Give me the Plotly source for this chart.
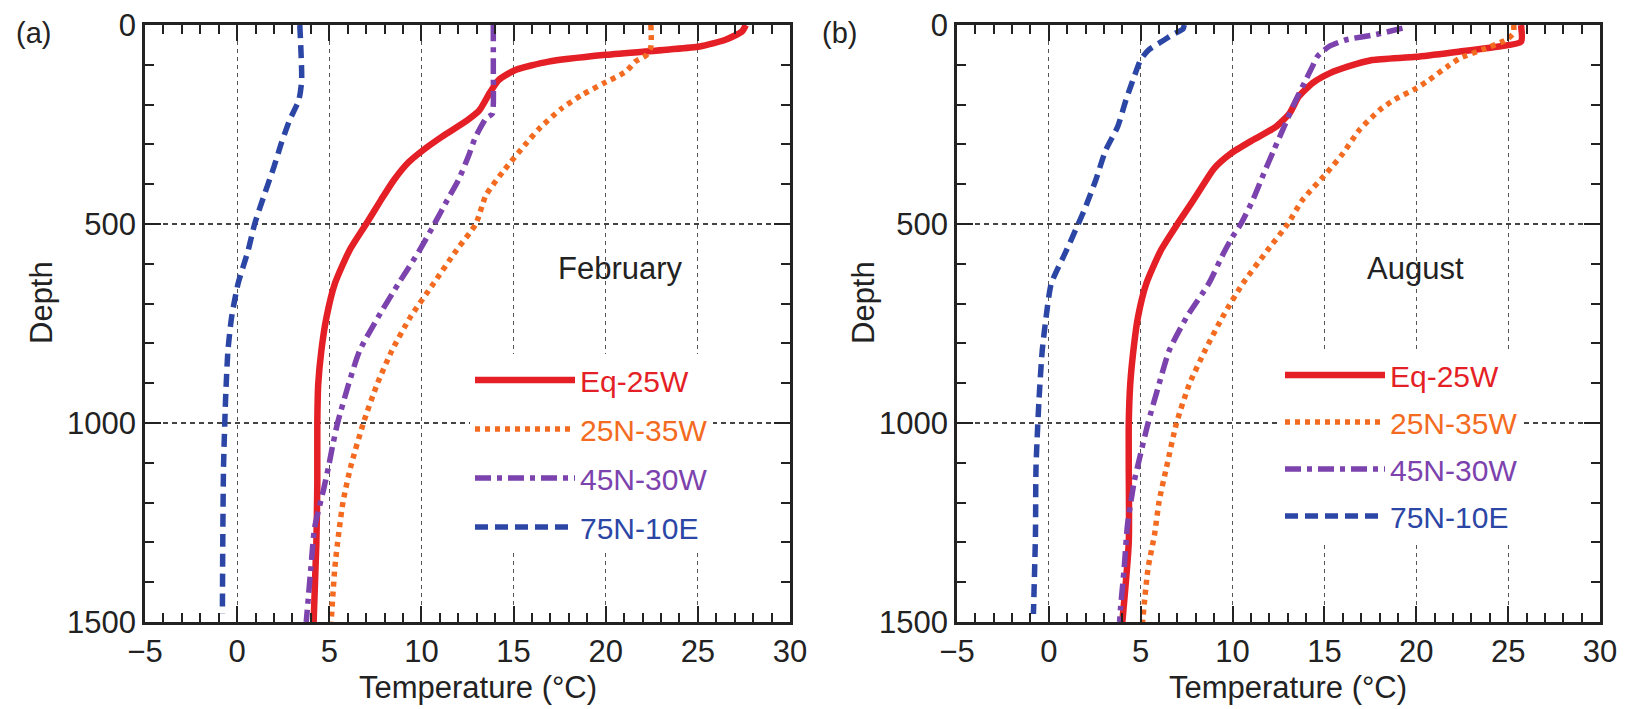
import plotly.graph_objects as go

W, H = 1625, 709

# ---------------- data: (a) February ----------------
feb_eq_depth = [0, 16, 37, 54, 62, 75, 92, 113, 138, 171, 214, 239, 281, 314, 345, 390, 440, 500, 566, 650, 734, 818, 902, 1000, 1150, 1300, 1500]
feb_eq_temp = [27.6, 27.4, 26.5, 25.1, 23.3, 20.0, 16.9, 15.1, 14.2, 13.7, 13.15, 12.5, 11.1, 10.1, 9.3, 8.5, 7.8, 7.0, 6.1, 5.3, 4.85, 4.57, 4.4, 4.35, 4.35, 4.3, 4.15]

feb_25n_depth = [0, 55, 76, 92, 117, 146, 176, 210, 260, 302, 370, 428, 500, 566, 650, 734, 818, 902, 1000, 1112, 1197, 1281, 1365, 1500]
feb_25n_temp = [22.45, 22.45, 22.2, 21.6, 21.1, 19.9, 18.7, 17.6, 16.4, 15.6, 14.4, 13.5, 12.95, 11.9, 10.65, 9.4, 8.4, 7.6, 6.85, 6.15, 5.75, 5.5, 5.3, 5.1]

feb_45n_depth = [0, 100, 200, 223, 235, 285, 330, 390, 440, 500, 566, 650, 734, 818, 902, 1000, 1053, 1112, 1171, 1264, 1365, 1500]
feb_45n_temp = [13.9, 13.9, 13.9, 13.85, 13.5, 12.9, 12.55, 12.0, 11.4, 10.7, 9.9, 8.75, 7.65, 6.65, 6.05, 5.45, 5.2, 4.95, 4.67, 4.2, 4.0, 3.75]

feb_75n_depth = [0, 140, 188, 239, 297, 356, 423, 500, 566, 650, 734, 818, 944, 1112, 1300, 1480]
feb_75n_temp = [3.4, 3.5, 3.35, 2.85, 2.4, 2.0, 1.5, 0.95, 0.6, 0.05, -0.3, -0.5, -0.63, -0.74, -0.78, -0.8]

# ---------------- data: (b) August ----------------
aug_eq_depth = [0, 42, 54, 67, 80, 88, 104, 121, 146, 180, 222, 256, 289, 323, 360, 405, 445, 500, 566, 650, 734, 818, 902, 1000, 1112, 1300, 1500]
aug_eq_temp = [25.7, 25.7, 24.5, 22.3, 20.0, 17.6, 16.3, 15.3, 14.35, 13.6, 13.1, 12.35, 11.1, 9.9, 9.0, 8.35, 7.8, 7.0, 6.1, 5.3, 4.85, 4.6, 4.43, 4.35, 4.35, 4.35, 4.0]

aug_25n_depth = [0, 20, 37, 62, 83, 104, 138, 159, 188, 214, 264, 323, 373, 440, 500, 566, 650, 734, 818, 902, 1000, 1112, 1197, 1281, 1365, 1500]
aug_25n_temp = [25.3, 25.3, 24.9, 23.6, 22.4, 21.7, 20.7, 20.0, 18.8, 18.0, 16.9, 16.0, 15.1, 13.8, 13.0, 11.9, 10.55, 9.45, 8.5, 7.65, 6.95, 6.4, 6.0, 5.75, 5.4, 5.1]

aug_45n_depth = [8, 24, 37, 54, 80, 104, 146, 188, 256, 314, 373, 440, 500, 532, 574, 650, 734, 818, 902, 1000, 1096, 1146, 1256, 1365, 1466, 1500]
aug_45n_temp = [19.25, 17.8, 16.2, 15.25, 14.6, 14.35, 13.9, 13.45, 12.8, 12.25, 11.7, 11.1, 10.45, 10.0, 9.5, 8.7, 7.5, 6.55, 6.0, 5.4, 4.9, 4.65, 4.28, 4.1, 3.9, 3.85]

aug_75n_depth = [0, 10, 25, 37, 62, 87, 129, 188, 255, 314, 390, 457, 500, 574, 650, 734, 818, 944, 1112, 1281, 1480]
aug_75n_temp = [7.37, 7.3, 6.7, 6.3, 5.45, 5.0, 4.65, 4.2, 3.75, 3.1, 2.55, 2.0, 1.6, 0.88, 0.13, -0.15, -0.36, -0.54, -0.7, -0.73, -0.84]

series_names = ["Eq-25W", "25N-35W", "45N-30W", "75N-10E"]
colors = ["#e41f26", "#f36b21", "#7c42ad", "#2c46a6"]
dashes = ["solid", "5px,5px", "16px,6px,5px,6px", "13px,7px"]
widths = [6.5, 5.5, 5.5, 5.5]

feb = [(feb_eq_temp, feb_eq_depth), (feb_25n_temp, feb_25n_depth), (feb_45n_temp, feb_45n_depth), (feb_75n_temp, feb_75n_depth)]
aug = [(aug_eq_temp, aug_eq_depth), (aug_25n_temp, aug_25n_depth), (aug_45n_temp, aug_45n_depth), (aug_75n_temp, aug_75n_depth)]

fig = go.Figure()
for panel, (data, xa, ya, leg) in enumerate([(feb, "x", "y", "legend"), (aug, "x2", "y2", "legend2")]):
    for i, (t, d) in enumerate(data):
        fig.add_trace(go.Scatter(
            x=t, y=d, mode="lines", xaxis=xa, yaxis=ya, legend=leg,
            name='<span style="color:%s">%s</span>' % (colors[i], series_names[i]),
            legendgroup="p%d_%d" % (panel, i),
            line=dict(color=colors[i], width=widths[i], dash=dashes[i], shape="spline", smoothing=0.6),
        ))

FONT = "Liberation Sans, Arial, Helvetica, sans-serif"
INK = "#222222"

def xax(dom):
    return dict(domain=dom, range=[-5, 30], tick0=-5, dtick=5, ticks="inside", ticklen=16, tickwidth=2,
                tickcolor=INK, minor=dict(dtick=1, ticks="inside", ticklen=9, tickwidth=1.5, tickcolor=INK, showgrid=False),
                showline=True, linewidth=2.5, linecolor=INK, mirror="allticks",
                showgrid=True, gridcolor="#555555", gridwidth=1.2, griddash="4px,4px", zeroline=False,
                tickfont=dict(size=31, color=INK, family=FONT), automargin=False, fixedrange=True)

def yax(dom, anchor):
    return dict(domain=dom, range=[1500, 0], tick0=0, dtick=500, ticks="inside", ticklen=16, tickwidth=2,
                tickcolor=INK, minor=dict(dtick=100, ticks="inside", ticklen=9, tickwidth=1.5, tickcolor=INK, showgrid=False),
                showline=True, linewidth=2.5, linecolor=INK, mirror="allticks", anchor=anchor,
                showgrid=True, gridcolor="#444444", gridwidth=2, griddash="5px,4px", zeroline=False,
                tickfont=dict(size=31, color=INK, family=FONT), automargin=False, fixedrange=True)

ydom = [1 - 622 / H, 1 - 25 / H]
fig.update_layout(
    width=W, height=H, margin=dict(l=0, r=0, t=0, b=0),
    paper_bgcolor="white", plot_bgcolor="white",
    font=dict(family=FONT, color=INK),
    xaxis=xax([145 / W, 790 / W]), yaxis=yax(ydom, "x"),
    xaxis2=xax([957 / W, 1600 / W]), yaxis2=yax(ydom, "x2"),
    xaxis2_anchor="y2", xaxis_anchor="y",
    showlegend=True,
    legend=dict(x=470 / W, y=1 - 354 / H, xanchor="left", yanchor="top", bgcolor="white",
                font=dict(size=30, family=FONT), itemwidth=100, tracegroupgap=7, traceorder="grouped"),
    legend2=dict(x=1280 / W, y=1 - 349 / H, xanchor="left", yanchor="top", bgcolor="white",
                 font=dict(size=30, family=FONT), itemwidth=100, tracegroupgap=5, traceorder="grouped"),
)

ann = [
    dict(text="(a)", x=33, y=33, size=29),
    dict(text="(b)", x=839, y=33, size=29),
    dict(text="Temperature (°C)", x=478, y=687, size=31),
    dict(text="Temperature (°C)", x=1288, y=687, size=31),
    dict(text="February", x=620, y=268, size=31),
    dict(text="August", x=1415, y=268, size=31),
]
for a in ann:
    fig.add_annotation(text=a["text"], xref="paper", yref="paper", x=a["x"] / W, y=1 - a["y"] / H,
                       showarrow=False, xanchor="center", yanchor="middle",
                       font=dict(size=a["size"], color=INK, family=FONT))
for xc in (41, 863):
    fig.add_annotation(text="Depth", xref="paper", yref="paper", x=xc / W, y=1 - 303 / H, textangle=-90,
                       showarrow=False, xanchor="center", yanchor="middle", font=dict(size=31, color=INK, family=FONT))

fig.write_html("out.html")
